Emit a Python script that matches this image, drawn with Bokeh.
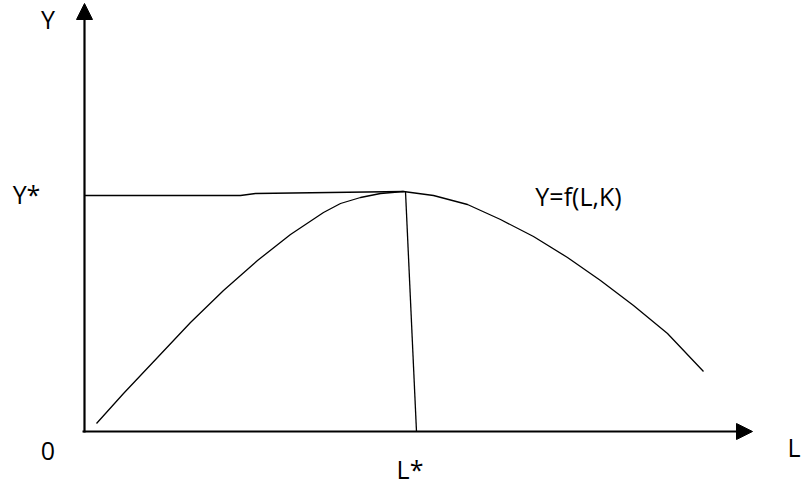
from bokeh.plotting import figure
from bokeh.models import Range1d, Arrow, NormalHead, Label
from bokeh.embed import file_html
from bokeh.resources import INLINE

# Production function Y = f(L, K), schematic units (L on x, Y on y)
curve_L = [1.2, 3.9, 7.3, 10.6, 13.9, 17.3, 20.6, 23.9, 25.6, 27.6, 29.6, 31.9,
           34.9, 38.3, 41.6, 44.9, 48.3, 51.6, 54.9, 58.3, 61.9]
curve_Y = [0.8, 3.8, 7.4, 10.9, 14.1, 17.1, 19.7, 21.9, 22.8, 23.4, 23.8, 24.0,
           23.6, 22.7, 21.2, 19.5, 17.4, 15.1, 12.6, 9.8, 6.0]

# Guide from the Y axis to the maximum (Y*)
ystar_L = [0.0, 15.6, 17.1, 31.9]
ystar_Y = [23.6, 23.6, 23.8, 24.0]

# Drop line from the maximum to the L axis (L*)
lstar_L = [32.1, 33.2]
lstar_Y = [24.0, 0.0]

# Axis extents
y_axis_top = 42.8
x_axis_end = 66.8

# Text labels
labels = ["Y", "Y*", "0", "L", "L*", "Y=f(L,K)"]
label_x = [-3.65, -5.8, -3.65, 70.3, 32.55, 49.4]
label_y = [41.3, 23.8, -1.9, -1.55, -3.7, 23.6]
label_align = ["center", "center", "center", "left", "center", "center"]

p = figure(width=804, height=489, output_backend="svg", toolbar_location=None,
           x_range=Range1d(-8.4, 72.0), y_range=Range1d(-5.8, 43.1),
           min_border=0, outline_line_color=None, background_fill_color="white",
           border_fill_color="white")
p.margin = (0, 0, 0, 0)
p.axis.visible = False
p.grid.visible = False

p.line(curve_L, curve_Y, line_color="black", line_width=1.3)
p.line(ystar_L, ystar_Y, line_color="black", line_width=1.3)
p.line(lstar_L, lstar_Y, line_color="black", line_width=1.3)

p.add_layout(Arrow(end=NormalHead(size=16, fill_color="black", line_color="black", line_width=1),
                   x_start=0, y_start=-0.1, x_end=0, y_end=y_axis_top,
                   line_color="black", line_width=2.2))
p.add_layout(Arrow(end=NormalHead(size=16, fill_color="black", line_color="black", line_width=1),
                   x_start=-0.2, y_start=0, x_end=x_axis_end, y_end=0,
                   line_color="black", line_width=2.2))

for t, x, y, a in zip(labels, label_x, label_y, label_align):
    p.add_layout(Label(x=x, y=y, text=t, text_align=a, text_baseline="middle",
                       text_font="Open Sans", text_font_size="25px",
                       text_color="black"))

open("out.html", "w").write(file_html(p, INLINE))
